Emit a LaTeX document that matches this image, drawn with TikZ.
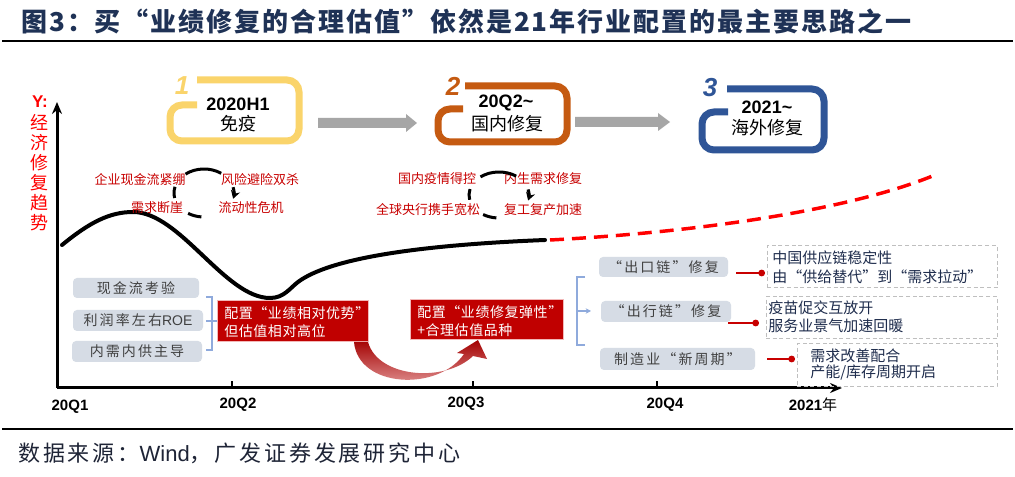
\documentclass[tikz,border=0pt]{standalone}
\usepackage{fontspec}
\setmainfont{Noto Sans CJK SC}
\newfontfamily\arial{Liberation Sans}
\usetikzlibrary{arrows.meta}
\definecolor{navy}{HTML}{1F3256}
\definecolor{foot}{HTML}{1E2436}
\definecolor{cyel}{HTML}{FAD46B}
\definecolor{corg}{HTML}{C55A11}
\definecolor{cblu}{HTML}{2F5597}
\definecolor{garrow}{HTML}{A6A6A6}
\definecolor{gboxc}{HTML}{D6DCE5}
\definecolor{gtext}{HTML}{404040}
\definecolor{rbox}{HTML}{C00000}
\definecolor{rborder}{HTML}{F2B8B8}
\definecolor{cred}{HTML}{C80000}
\definecolor{bracec}{HTML}{8FAADC}
\definecolor{dashc}{HTML}{BFBFBF}
\definecolor{dtext}{HTML}{1F2D4D}
\newcommand\pxfont[1]{\fontsize{\fpeval{#1*0.75}pt}{\fpeval{#1*0.9}pt}\selectfont}
\newcommand\stagebox[8]{%
  \draw[line width=5.25pt, draw=#1, rounded corners=9pt, line cap=butt]
    (#6,#4) -- (#3,#4) -- (#3,#5) -- (#2,#5) -- (#2,#7) -- (#8,#7);}
\begin{document}
\begin{tikzpicture}[x=0.75pt,y=-0.75pt,
  sz/.style 2 args={minimum width=#1*0.75pt, minimum height=#2*0.75pt},
  graybox/.style={fill=gboxc, rounded corners=3pt, inner sep=0pt, text=gtext,
     font=\pxfont{14}\addfontfeature{LetterSpace=15}},
  redbox/.style={fill=rbox, draw=rborder, line width=0.75pt, inner sep=0pt},
  redtxt/.style={anchor=west, inner sep=0pt, text=white, font=\pxfont{14}\addfontfeature{LetterSpace=4}},
  dbox/.style={draw=dashc, line width=0.75pt, dash pattern=on 3pt off 2pt, inner sep=0pt},
  dtxt/.style={anchor=west, inner sep=0pt, text=dtext, font=\pxfont{15}},
  rtxt/.style={inner sep=0pt, text=cred, font=\pxfont{13}},
  cyc/.style={line width=2.25pt, black},
  ticklab/.style={inner sep=0pt, font=\arial\bfseries\pxfont{15}},
  stagenum/.style={inner sep=0pt, font=\arial\bfseries\itshape\pxfont{26}},
  stagehead/.style={inner sep=0pt, font=\arial\bfseries\pxfont{18}},
  stagesub/.style={inner sep=0pt, font=\pxfont{18}},
  redcon/.style={draw=cred, line width=1.5pt, -{Circle[length=5pt]}},
  brace/.style={draw=bracec, line width=1.5pt},
  axis/.style={line width=2.25pt, black}]
\fill[white] (0,0) rectangle (1015,477);
\useasboundingbox (0,0) rectangle (1015,477);

% title and rules
\node[anchor=west, text=navy, font=\bfseries\pxfont{26}\addfontfeature{LetterSpace=7.5}, inner sep=0pt] (title) at (21,21)
  {图3：买“业绩修复的合理估值”依然是21年行业配置的最主要思路之一};
\draw[line width=1.5pt] (2,41) -- (1013,41);
\draw[line width=1.2pt] (2,429) -- (1013,429);
\node[anchor=west, text=foot, font=\pxfont{22}\addfontfeature{LetterSpace=13}, inner sep=0pt] (foot) at (18,453)
  {数据来源：{\arial Wind}，广发证券发展研究中心};

% stage boxes
\stagebox{cyel}{170}{299}{80}{141}{197}{105}{197}
\stagebox{corg}{438}{567}{86}{142}{465}{109}{463}
\stagebox{cblu}{702}{824}{89}{150}{727}{112}{728}
\node[stagenum, text=cyel] (n1) at (182,86) {1};
\node[stagenum, text=corg] (n2) at (453,86) {2};
\node[stagenum, text=cblu] (n3) at (710,88) {3};
\node[stagehead] (h1) at (238,104) {2020H1};
\node[stagesub] (s1) at (238,124) {免疫};
\node[stagehead] (h2) at (506,103) {20Q2\char"7E};
\node[stagesub] (s2) at (507,124) {国内修复};
\node[stagehead] (h3) at (767,107) {2021\char"7E};
\node[stagesub] (s3) at (767,128) {海外修复};

% gray arrows between stages
\fill[garrow] (318,118) -- (406,118) -- (406,114) -- (417,123) -- (406,132) -- (406,128) -- (318,128) -- cycle;
\fill[garrow] (575,117) -- (658,117) -- (658,113) -- (670,122) -- (658,131) -- (658,127) -- (575,127) -- cycle;

% axes
\coordinate (O) at (57,388);
\coordinate (Ytop) at (57,102);
\coordinate (Xend) at (842,388);
\draw[axis, -{Stealth[length=9pt, width=7.5pt]}] (O) -- (Ytop);
\draw[axis, -{Stealth[length=9pt, width=7.5pt]}] (O) -- (Xend);
\foreach \x in {232,473,657} \draw[line width=1.5pt] (\x,388) -- (\x,381);
\node[ticklab] (q1) at (70,407) {20Q1};
\node[ticklab] (q2) at (238,405) {20Q2};
\node[ticklab] (q3) at (466,404) {20Q3};
\node[ticklab] (q4) at (665,405) {20Q4};
\node[inner sep=0pt] (q5) at (813,405) {{\arial\bfseries\pxfont{15}2021}{\pxfont{15}年}};
\node[inner sep=0pt, text=red, font=\arial\bfseries\pxfont{17}] (ylab) at (40,102) {Y:};
\node[inner sep=0pt, text=red, align=center, font=\fontsize{13.5pt}{15pt}\selectfont] (ytxt) at (40,173)
  {经\\济\\修\\复\\趋\\势};

% trend curve
\draw[line width=3pt, line cap=round] (62,245) .. controls (90,222) and (110,212) .. (133,212)
  .. controls (180,212) and (225,298) .. (270,298)
  .. controls (284,298) and (290,288) .. (298,282)
  .. controls (330,258) and (420,245) .. (545,240);
\draw[line width=2.6pt, red, dash pattern=on 10.5pt off 6pt] (550,240) .. controls (700,232) and (850,210) .. (935,175);

% cycle 1
\node[rtxt] (a1) at (140,180) {企业现金流紧绷};
\node[rtxt] (a2) at (260,180) {风险避险双杀};
\node[rtxt] (a3) at (157,208) {需求断崖};
\node[rtxt] (a4) at (251,208) {流动性危机};
\coordinate (cc1) at (204,193);
\draw[cyc] ([shift={(-128:30 and 24)}]cc1) arc[start angle=-128, end angle=-55, x radius=30, y radius=24];
\draw[cyc, -{Stealth[length=6pt, width=7pt]}] ([shift={(-14:30 and 24)}]cc1) arc[start angle=-14, end angle=14, x radius=30, y radius=24];
\draw[cyc] ([shift={(168:30 and 24)}]cc1) arc[start angle=168, end angle=195, x radius=30, y radius=24];
\draw[cyc] ([shift={(95:30 and 24)}]cc1) arc[start angle=95, end angle=122, x radius=30, y radius=24];

% cycle 2
\node[rtxt] (b1) at (437,179) {国内疫情得控};
\node[rtxt] (b2) at (543,179) {内生需求修复};
\node[rtxt] (b3) at (428,210) {全球央行携手宽松};
\node[rtxt] (b4) at (543,210) {复工复产加速};
\coordinate (cc2) at (499,195);
\draw[cyc] ([shift={(-128:30 and 23)}]cc2) arc[start angle=-128, end angle=-55, x radius=30, y radius=23];
\draw[cyc, -{Stealth[length=6pt, width=7pt]}] ([shift={(-14:30 and 23)}]cc2) arc[start angle=-14, end angle=14, x radius=30, y radius=23];
\draw[cyc] ([shift={(168:30 and 23)}]cc2) arc[start angle=168, end angle=195, x radius=30, y radius=23];
\draw[cyc] ([shift={(95:30 and 23)}]cc2) arc[start angle=95, end angle=122, x radius=30, y radius=23];

% left gray boxes
\node[graybox, sz={126}{20}] (l1) at (136,288) {现金流考验};
\node[graybox, sz={130}{21}] (l2) at (138,320.5) {利润率左右{\arial ROE}};
\node[graybox, sz={130}{21}] (l3) at (137,351.5) {内需内供主导};
\draw[brace] (206,297) -- (212,297) -- (212,350) -- (206,350);
\draw[brace] (206,321) -- (218,321);

% red boxes
\node[redbox, sz={151}{41}] (r1) at (292.5,321.5) {};
\node[redtxt] (r1a) at (224,313) {配置“业绩相对优势”};
\node[redtxt] (r1b) at (224,331) {但估值相对高位};
\node[redbox, sz={153}{40}] (r2) at (486.5,320) {};
\node[redtxt] (r2a) at (417,312) {配置“业绩修复弹性”};
\node[redtxt] (r2b) at (417,330) {+合理估值品种};

% curved red arrow
\shade[top color=rbox!85!black, bottom color=rbox!35] (354,342) .. controls (358,388) and (438,392) .. (464,354)
  -- (457,353) -- (478,340) -- (487,359) -- (473,356)
  .. controls (445,383) and (378,378) .. (368,342) -- cycle;

% right bracket
\draw[brace] (585,277) -- (577,277) -- (577,345) -- (585,345);
\draw[brace, -{Stealth[length=4pt, width=4pt]}] (577,311) -- (591,311);

% right gray boxes
\node[graybox, sz={129}{20}] (g1) at (663.5,267) {“出口链”修复};
\node[graybox, sz={130}{21}] (g2) at (666,311.5) {“出行链”修复};
\node[graybox, sz={155}{22}] (g3) at (677.5,359) {制造业“新周期”};

% dashed boxes
\node[dbox, sz={230}{42}] (d1) at (882,267) {};
\node[dtxt] (d1a) at (772,258) {中国供应链稳定性};
\node[dtxt] (d1b) at (772,277) {由“供给替代”到“需求拉动”};
\node[dbox, sz={231}{42}] (d2) at (881.5,318) {};
\node[dtxt] (d2a) at (768,308) {疫苗促交互放开};
\node[dtxt] (d2b) at (768,326) {服务业景气加速回暖};
\node[dbox, sz={200}{43}] (d3) at (897,365.5) {};
\node[dtxt] (d3a) at (810,356) {需求改善配合};
\node[dtxt] (d3b) at (810,373) {产能/库存周期开启};

% red connectors
\coordinate (c1s) at (736,273); \coordinate (c1e) at (765,273);
\coordinate (c2s) at (728,323); \coordinate (c2e) at (759,323);
\coordinate (c3s) at (767,359); \coordinate (c3e) at (795,359);
\draw[redcon] (c1s) -- (c1e);
\draw[redcon] (c2s) -- (c2e);
\draw[redcon] (c3s) -- (c3e);
\end{tikzpicture}
\end{document}
